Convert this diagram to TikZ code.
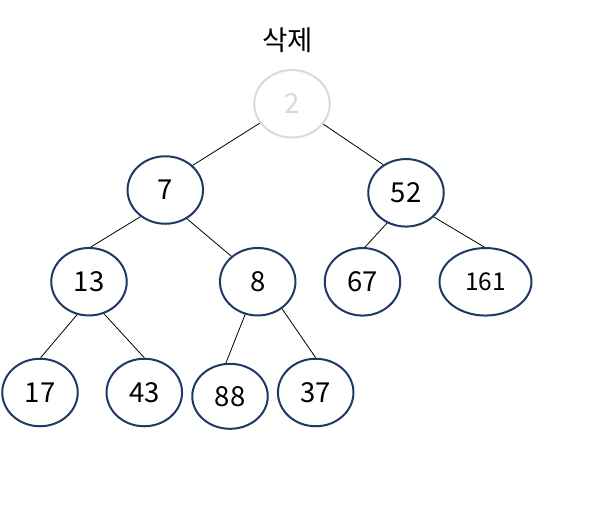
\documentclass[tikz,border=0pt]{standalone}
\usepackage{fontspec}
\setmainfont{Noto Sans CJK KR}
\usetikzlibrary{shapes.geometric}
\definecolor{hnavy}{HTML}{203864}
\definecolor{hgray}{HTML}{D9D9D9}
\begin{document}
\begin{tikzpicture}[x=1pt,y=-1pt,
  hnode/.style={ellipse, draw=hnavy, line width=2pt, inner sep=0pt,
    minimum width=75.5pt, minimum height=67.5pt, font=\fontsize{27.5}{32}\selectfont},
  link/.style={draw=black, line width=0.8pt}]
\useasboundingbox (0,0) rectangle (612,523);
\node[font=\fontsize{27.5}{32}\selectfont] (title) at (287.5,40.5) {삭제};
\node[hnode, draw=hgray, text=hgray] (n2) at (292,103.8) {2};
\node[hnode] (n7) at (165.3,190) {7};
\node[hnode] (n52) at (406,192.8) {52};
\node[hnode] (n13) at (89,281.7) {13};
\node[hnode] (n8) at (257.7,281.7) {8};
\node[hnode] (n67) at (362.5,281.8) {67};
\node[hnode, minimum width=92pt, font=\fontsize{24.5}{28}\selectfont] (n161) at (485.5,281.8) {161};
\node[hnode] (n17) at (40,392.5) {17};
\node[hnode] (n43) at (144.3,392.5) {43};
\node[hnode, minimum height=65pt] (n88) at (230,396.3) {88};
\node[hnode] (n37) at (315.7,392.5) {37};
\draw[link] (n2.211) -- (n7.42);
\draw[link] (n2.327) -- (n52.129);
\draw[link] (n7.227) -- (n13.87);
\draw[link] (n7.307) -- (n8.136);
\draw[link] (n52.238) -- (n67.86);
\draw[link] (n52.319) -- (n161.92);
\draw[link] (n13.250) -- (n17.89);
\draw[link] (n13.295) -- (n43.90);
\draw[link] (n8.249) -- (n88.97);
\draw[link] (n8.312) -- (n37.90);
\end{tikzpicture}
\end{document}
